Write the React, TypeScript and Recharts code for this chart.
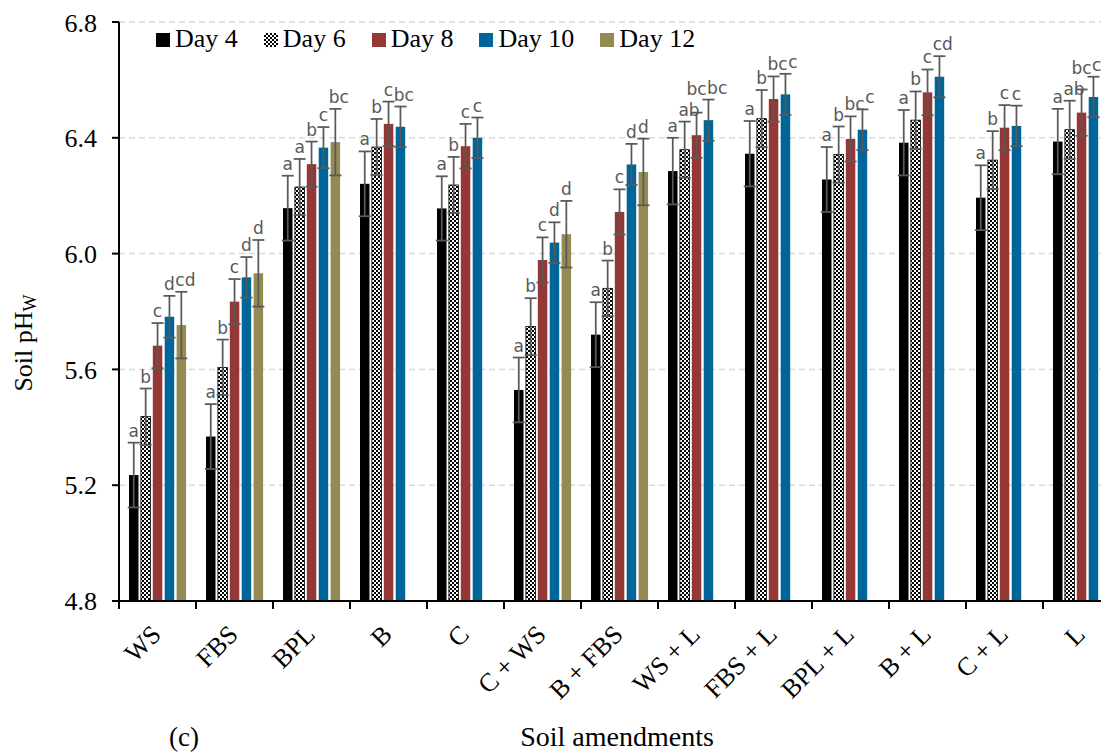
import React from 'react';
import { BarChart, Bar, XAxis, YAxis, CartesianGrid, ErrorBar } from 'recharts';

const categories = ['WS', 'FBS', 'BPL', 'B', 'C', 'C + WS', 'B + FBS', 'WS + L', 'FBS + L', 'BPL + L', 'B + L', 'C + L', 'L'];

const day4 = [5.235, 5.368, 6.157, 6.241, 6.156, 5.529, 5.72, 6.285, 6.345, 6.256, 6.383, 6.193, 6.387];
const day6 = [5.437, 5.607, 6.23, 6.368, 6.237, 5.748, 5.88, 6.359, 6.466, 6.342, 6.461, 6.323, 6.428];
const day8 = [5.682, 5.834, 6.309, 6.448, 6.371, 5.978, 6.144, 6.409, 6.534, 6.396, 6.557, 6.435, 6.487];
const day10 = [5.782, 5.918, 6.366, 6.438, 6.4, 6.038, 6.308, 6.461, 6.55, 6.428, 6.611, 6.441, 6.541];
const day12 = [5.753, 5.932, 6.385, null, null, 6.067, 6.282, null, null, null, null, null, null];

const err4 = [0.112, 0.112, 0.112, 0.112, 0.111, 0.112, 0.112, 0.115, 0.113, 0.112, 0.113, 0.112, 0.113];
const err6 = [0.097, 0.096, 0.097, 0.097, 0.097, 0.098, 0.096, 0.097, 0.099, 0.097, 0.099, 0.1, 0.1];
const err8 = [0.078, 0.078, 0.078, 0.077, 0.077, 0.078, 0.078, 0.078, 0.078, 0.078, 0.079, 0.078, 0.08];
const err10 = [0.072, 0.07, 0.071, 0.07, 0.07, 0.07, 0.071, 0.071, 0.071, 0.07, 0.071, 0.07, 0.07];
const err12 = [0.115, 0.115, 0.115, null, null, 0.115, 0.115, null, null, null, null, null, null];

const let4 = ['a', 'a', 'a', 'a', 'a', 'a', 'a', 'a', 'a', 'a', 'a', 'a', 'a'];
const let6 = ['b', 'b', 'a', 'b', 'b', 'b', 'b', 'ab', 'b', 'b', 'b', 'b', 'ab'];
const let8 = ['c', 'c', 'b', 'c', 'c', 'c', 'c', 'bc', 'bc', 'bc', 'c', 'c', 'bc'];
const let10 = ['d', 'd', 'c', 'bc', 'c', 'd', 'd', 'bc', 'c', 'c', 'cd', 'c', 'c'];
const let12 = ['cd', 'd', 'bc', null, null, 'd', 'd', null, null, null, null, null, null];

const yTicks = [4.8, 5.2, 5.6, 6.0, 6.4, 6.8];

const series = [
  { key: 'd4', name: 'Day 4', color: '#000000' },
  { key: 'd6', name: 'Day 6', color: 'url(#checker)' },
  { key: 'd8', name: 'Day 8', color: '#953735' },
  { key: 'd10', name: 'Day 10', color: '#006699' },
  { key: 'd12', name: 'Day 12', color: '#948a54' },
];

const rows: any[] = categories.map((name, i) => ({
  name,
  d4: day4[i], d6: day6[i], d8: day8[i], d10: day10[i], d12: day12[i],
  e4: err4[i], e6: err6[i], e8: err8[i], e10: err10[i], e12: err12[i],
  l4: let4[i], l6: let6[i], l8: let8[i], l10: let10[i], l12: let12[i],
}));

const CHART_W = 1112;
const CHART_H = 745;
const Y_AXIS_W = 111;
const TOP = 14;
const X_AXIS_H = 152;
const PLOT_W = CHART_W - Y_AXIS_W;
const PLOT_H = CHART_H - TOP - X_AXIS_H;
const BAND = PLOT_W / categories.length;
const PX_PER_UNIT = PLOT_H / (6.8 - 4.8);
const BAR_W = 9.5;
const BAR_GAP = 2.4;
const PITCH = BAR_W + BAR_GAP;
const SERIF = '"Liberation Serif", "Times New Roman", serif';

const LBL_SIZE = 17;
const GLYPH_W: Record<string, number> = { a: 0.613, b: 0.635, c: 0.55, d: 0.635 };
const ASC = 0.93 * LBL_SIZE;
const DESC = 0.24 * LBL_SIZE;

// letter labels sit above the error cap; colliding ones are nudged right, or lifted
const labelPos: Record<string, { dx: number; base: number }> = {};
rows.forEach((row) => {
  const i = categories.indexOf(row.name);
  const cx0 = Y_AXIS_W + BAND * (i + 0.5);
  const placed: { l: number; r: number; t: number; b: number }[] = [];
  series.forEach((s, k) => {
    const suf = s.key.slice(1);
    const v = row[s.key];
    const letter: string | null = row['l' + suf];
    if (v == null || !letter) return;
    const capY = TOP + (6.8 - v - (row['e' + suf] ?? 0)) * PX_PER_UNIT;
    let base = capY - 6;
    let dx = 0;
    const cx = cx0 + (k - 2) * PITCH;
    const w = letter.split('').reduce((a, ch) => a + (GLYPH_W[ch] ?? 0.6) * LBL_SIZE, 0);
    let guard = 0;
    while (guard++ < 20) {
      const l = cx + dx - w / 2;
      const r = cx + dx + w / 2;
      const hit = placed.find((p) => l < p.r && r > p.l && base - ASC < p.b && base + DESC > p.t);
      if (!hit) break;
      const need = hit.r - l + 0.5;
      if (dx + need <= 13) dx += need;
      else base = hit.t - DESC - 0.5;
    }
    placed.push({ l: cx + dx - w / 2, r: cx + dx + w / 2, t: base - ASC, b: base + DESC });
    labelPos[`${row.name}|${s.key}`] = { dx, base };
  });
});

function makeShape(valKey: string, letKey: string, outline: boolean) {
  return (props: any) => {
    const { x, y, width, height, fill, payload } = props;
    if (!payload || payload[valKey] == null || !(height > 0)) return <g />;
    const letter = payload[letKey];
    const pos = labelPos[`${payload.name}|${valKey}`];
    return (
      <g>
        <rect x={x} y={y} width={width} height={height} fill={fill}
          stroke={outline ? '#000' : 'none'} strokeWidth={outline ? 0.8 : 0} />
        {letter && pos ? (
          <text x={x + width / 2 + pos.dx} y={pos.base} textAnchor="middle"
            fontFamily='"DejaVu Sans", sans-serif' fontSize={LBL_SIZE} fill="#595959">
            {letter}
          </text>
        ) : null}
      </g>
    );
  };
}

function XTick(props: any) {
  const { x, y, payload } = props;
  const ax = x + 5;
  const ay = y + 35;
  return (
    <g>
      <line x1={x - BAND / 2} y1={y} x2={x - BAND / 2} y2={y + 8} stroke="#000" strokeWidth={2} />
      <text x={ax} y={ay} textAnchor="end" transform={`rotate(-45, ${ax}, ${ay})`}
        fontFamily={SERIF} fontSize={26} fill="#000">
        {payload.value}
      </text>
    </g>
  );
}

function LegendSwatch({ color }: { color: string }) {
  return (
    <svg width={14} height={14} style={{ marginRight: 5, marginTop: 2, display: 'block' }}>
      <defs>
        <pattern id="checkerLegend" width={4} height={4} patternUnits="userSpaceOnUse">
          <rect width={4} height={4} fill="#000" />
          <rect x={0} y={0} width={2} height={2} fill="#fff" />
          <rect x={2} y={2} width={2} height={2} fill="#fff" />
        </pattern>
      </defs>
      <rect width={14} height={14} fill={color === 'url(#checker)' ? 'url(#checkerLegend)' : color} />
    </svg>
  );
}

export default function App() {
  return (
    <div style={{ position: 'relative', width: 1101, height: CHART_H, overflow: 'hidden', fontFamily: SERIF }}>
      <BarChart
        width={CHART_W}
        height={CHART_H}
        data={rows}
        margin={{ top: TOP, right: 0, left: 0, bottom: 0 }}
        barSize={BAR_W}
        barGap={BAR_GAP}
      >
        <defs>
          <pattern id="checker" width={4} height={4} patternUnits="userSpaceOnUse">
            <rect width={4} height={4} fill="#000" />
            <rect x={0} y={0} width={2} height={2} fill="#fff" />
            <rect x={2} y={2} width={2} height={2} fill="#fff" />
          </pattern>
        </defs>
        <CartesianGrid vertical={false} stroke="#d9d9d9" strokeDasharray="6 4" strokeWidth={1.5} />
        <XAxis
          dataKey="name"
          height={X_AXIS_H}
          interval={0}
          tickSize={0}
          tickMargin={0}
          tickLine={false}
          axisLine={{ stroke: '#000', strokeWidth: 2 }}
          tick={<XTick />}
        />
        <YAxis
          domain={[4.8, 6.8]}
          ticks={yTicks}
          allowDataOverflow
          width={Y_AXIS_W}
          tickSize={7}
          tickMargin={15}
          tickFormatter={(v: number) => v.toFixed(1)}
          axisLine={{ stroke: '#000', strokeWidth: 2 }}
          tickLine={{ stroke: '#000', strokeWidth: 2 }}
          tick={{ fill: '#000', fontSize: 26, fontFamily: SERIF }}
        />
        {series.map((s) => {
          const suffix = s.key.slice(1);
          return (
            <Bar
              key={s.key}
              dataKey={s.key}
              name={s.name}
              fill={s.color}
              isAnimationActive={false}
              shape={makeShape(s.key, 'l' + suffix, s.key === 'd6')}
            >
              <ErrorBar dataKey={'e' + suffix} width={6} stroke="#595959" strokeWidth={1.75} isAnimationActive={false} />
            </Bar>
          );
        })}
      </BarChart>

      <div style={{ position: 'absolute', left: 148, top: 18, display: 'flex', alignItems: 'center', fontSize: 26, lineHeight: '26px', color: '#000', whiteSpace: 'nowrap' }}>
        {series.map((s, i) => (
          <div key={s.key} style={{ display: 'flex', alignItems: 'center', marginRight: i < series.length - 1 ? 26 : 0 }}>
            <LegendSwatch color={s.color} />
            <span>{s.name}</span>
          </div>
        ))}
      </div>

      <div style={{ position: 'absolute', left: 19, top: 335, transform: 'translate(-50%, -50%) rotate(-90deg)', fontSize: 26, lineHeight: '26px', whiteSpace: 'nowrap' }}>
        Soil pH<sub style={{ fontSize: 18, verticalAlign: -4 }}>W</sub>
      </div>

      <div style={{ position: 'absolute', left: 609, top: 715, transform: 'translateX(-50%)', fontSize: 28, lineHeight: '28px', whiteSpace: 'nowrap' }}>
        Soil amendments
      </div>
      <div style={{ position: 'absolute', left: 176, top: 715, transform: 'translateX(-50%)', fontSize: 27, lineHeight: '28px', whiteSpace: 'nowrap' }}>
        (c)
      </div>
    </div>
  );
}
